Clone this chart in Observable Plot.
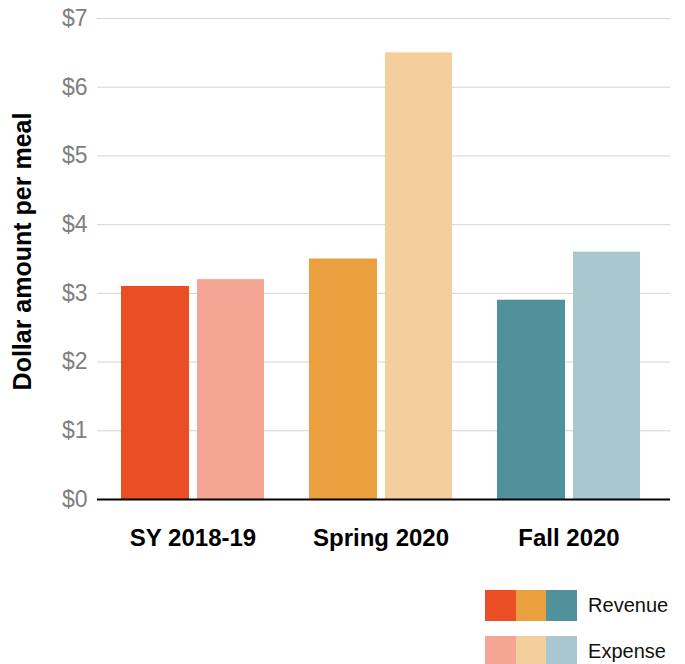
<!DOCTYPE html>
<html>
<head>
<meta charset="utf-8">
<script src="https://cdn.jsdelivr.net/npm/d3@7"></script>
<script src="https://cdn.jsdelivr.net/npm/@observablehq/plot@0.6"></script>
<style>
  body { margin: 0; background: #fff; font-family: "Liberation Sans", Arial, Helvetica, sans-serif; }
  #wrap { position: relative; width: 685px; height: 664px; }
  #legend { position: absolute; left: 485px; top: 590px; }
  .row { display: flex; align-items: center; height: 31px; margin-bottom: 15px; }
  .sw { width: 30.7px; height: 31px; }
  .lab { margin-left: 11px; font-size: 20px; color: #111; }
</style>
</head>
<body>
<div id="wrap">
  <div id="chart"></div>
  <div id="legend"></div>
</div>
<script>
const categories = ["SY 2018-19", "Spring 2020", "Fall 2020"];
const revenue = [3.1, 3.5, 2.9];
const expense = [3.2, 6.5, 3.6];
const revenueColors = ["#E94E24", "#EAA03E", "#50919C"];
const expenseColors = ["#F4A593", "#F4CE9C", "#A8C7CF"];
const yTicks = [0, 1, 2, 3, 4, 5, 6, 7];
const seriesNames = ["Revenue", "Expense"];

const rows = categories.map((c, i) => ({
  category: c, revenue: revenue[i], expense: expense[i],
  revColor: revenueColors[i], expColor: expenseColors[i]
}));

const chart = Plot.plot({
  width: 685,
  height: 575,
  marginLeft: 97,
  marginRight: 15,
  marginTop: 18,
  marginBottom: 76,
  style: { fontFamily: "'Liberation Sans', Arial, Helvetica, sans-serif", background: "#fff" },
  x: { domain: categories, range: [120, 640], paddingInner: 0.2414, paddingOuter: 0 },
  y: { domain: [0, 7] },
  marks: [
    Plot.gridY(yTicks, { stroke: "#d4d4d4", strokeOpacity: 1, strokeWidth: 1 }),
    Plot.barY(rows, { x: "category", y: "revenue", fill: "revColor", insetRight: 75 }),
    Plot.barY(rows, { x: "category", y: "expense", fill: "expColor", insetLeft: 76 }),
    Plot.ruleY([0], { stroke: "#000", strokeWidth: 2 }),
    Plot.axisY(yTicks, {
      tickSize: 0, tickPadding: 10, fontSize: 23, fill: "#808080",
      tickFormat: d => "$" + d, label: null
    }),
    Plot.axisX({
      tickSize: 0, tickPadding: 29, fontSize: 24, fontWeight: "bold",
      fill: "#000", label: null
    }),
    Plot.text(["Dollar amount per meal"], {
      frameAnchor: "left", textAnchor: "middle", lineAnchor: "middle",
      dx: -74.5, dy: -7.5, rotate: -90,
      fontSize: 25, fontWeight: "bold", fill: "#000"
    })
  ]
});
document.getElementById("chart").appendChild(chart);

const legend = document.getElementById("legend");
[revenueColors, expenseColors].forEach((cols, k) => {
  const row = document.createElement("div");
  row.className = "row";
  cols.forEach(c => {
    const s = document.createElement("div");
    s.className = "sw";
    s.style.background = c;
    row.appendChild(s);
  });
  const t = document.createElement("span");
  t.className = "lab";
  t.textContent = seriesNames[k];
  row.appendChild(t);
  legend.appendChild(row);
});
</script>
</body>
</html>
